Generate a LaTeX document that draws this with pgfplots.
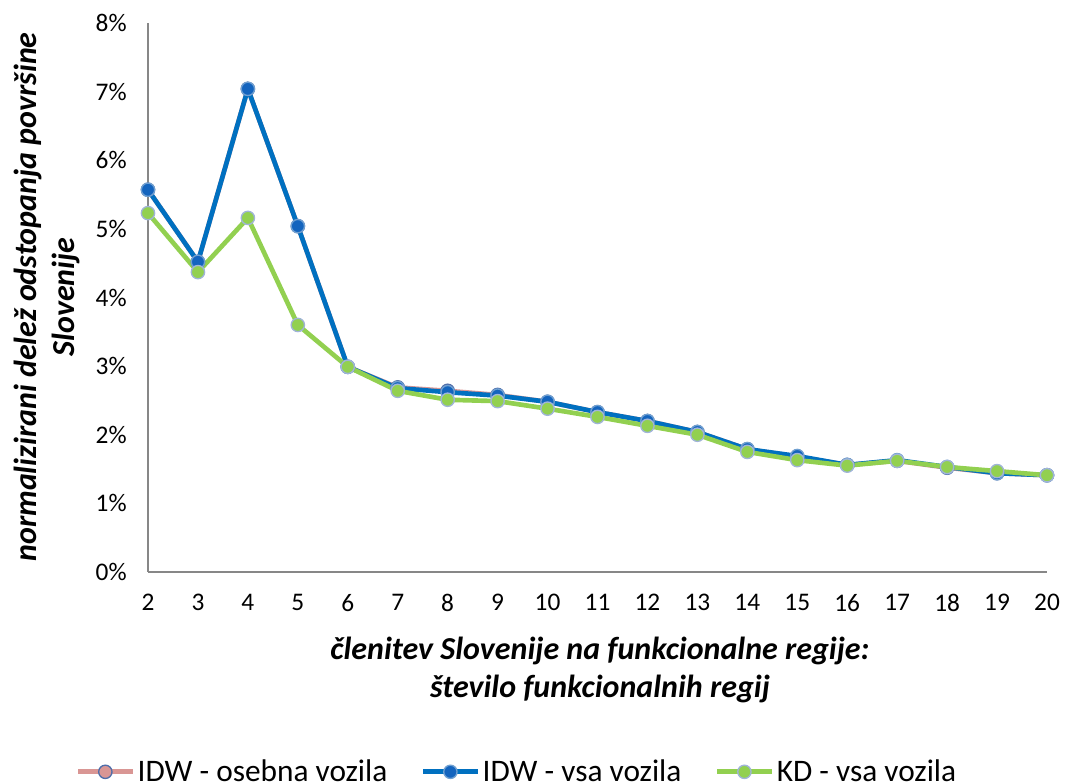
\documentclass[border=0pt]{standalone}
\usepackage{pgfplots}
\pgfplotsset{compat=1.18}
\usepackage{fontspec}
\setmainfont{Carlito}
\definecolor{cblue}{RGB}{0,112,192}
\definecolor{cbluem}{RGB}{20,100,190}
\definecolor{cgreen}{RGB}{146,208,80}
\definecolor{cpink}{RGB}{217,150,148}
\definecolor{cpedge}{RGB}{79,110,170}
\definecolor{cedge}{RGB}{160,180,216}
\definecolor{caxis}{RGB}{135,135,135}
\pgfplotstableread{
x idwo idwv kd
2 5.57 5.57 5.23
3 4.52 4.52 4.37
4 7.04 7.04 5.16
5 5.04 5.04 3.60
6 2.99 2.99 2.99
7 2.69 2.68 2.64
8 2.64 2.62 2.51
9 2.58 2.57 2.49
10 2.48 2.48 2.38
11 2.33 2.33 2.26
12 2.20 2.20 2.13
13 2.04 2.04 2.00
14 1.79 1.79 1.75
15 1.68 1.69 1.63
16 1.56 1.56 1.55
17 1.62 1.63 1.62
18 1.52 1.53 1.53
19 1.44 1.44 1.47
20 1.41 1.41 1.41
}\data
\begin{document}
\begin{tikzpicture}
\path[use as bounding box] (0pt,0pt) rectangle (798.75pt,586.5pt);
\begin{axis}[
  at={(111pt,157.5pt)}, anchor=south west,
  scale only axis, width=674.25pt, height=411.75pt,
  xmin=2, xmax=20, ymin=0, ymax=8,
  axis lines*=left,
  axis line style={caxis, line width=1.1pt, -},
  xtick={2,...,20}, ytick={0,...,8},
  major tick length=0pt,
  /pgf/number format/assume math mode=true,
  yticklabel={\pgfmathprintnumber{\tick}\%},
  ticklabel style={font=\fontsize{19}{22}\selectfont},
  yticklabel style={xshift=-12.5pt},
  xticklabel style={yshift=-13.3pt},
  clip=false,
  legend columns=3,
  legend style={at={(0.41,-0.364)}, anchor=center, draw=none, fill=none,
    font=\fontsize{23.5}{28}\selectfont,
    nodes={inner sep=1pt},
    /tikz/every odd column/.append style={column sep=1pt},
    /tikz/every even column/.append style={column sep=24pt}},
  legend image code/.code={
    \draw[mark repeat=2, mark phase=2, #1]
      plot coordinates {(0pt,0pt) (20.5pt,0pt) (41pt,0pt)};
  },
]
\addplot[cpink, line width=3.5pt, mark=*, mark size=5pt,
  mark options={fill=cpink, draw=cpedge, line width=1pt}]
  table[x=x,y=idwo]{\data};
\addlegendentry{IDW - osebna vozila}
\addplot[cblue, line width=3.5pt, mark=*, mark size=5pt,
  mark options={fill=cbluem, draw=cedge!70!cblue, line width=1pt}]
  table[x=x,y=idwv]{\data};
\addlegendentry{IDW - vsa vozila}
\addplot[cgreen, line width=3.5pt, mark=*, mark size=5pt,
  mark options={fill=cgreen, draw=cedge, line width=1pt}]
  table[x=x,y=kd]{\data};
\addlegendentry{KD - vsa vozila}
\end{axis}
\node[rotate=90, align=center, font=\fontsize{24}{28}\selectfont\bfseries\itshape]
  at (35.25pt,363.75pt) {normalizirani delež odstopanja površine\\Slovenije};
\node[align=center, font=\fontsize{24}{29}\selectfont\bfseries\itshape]
  at (450pt,84pt) {členitev Slovenije na funkcionalne regije:\\število funkcionalnih regij};
\end{tikzpicture}
\end{document}
